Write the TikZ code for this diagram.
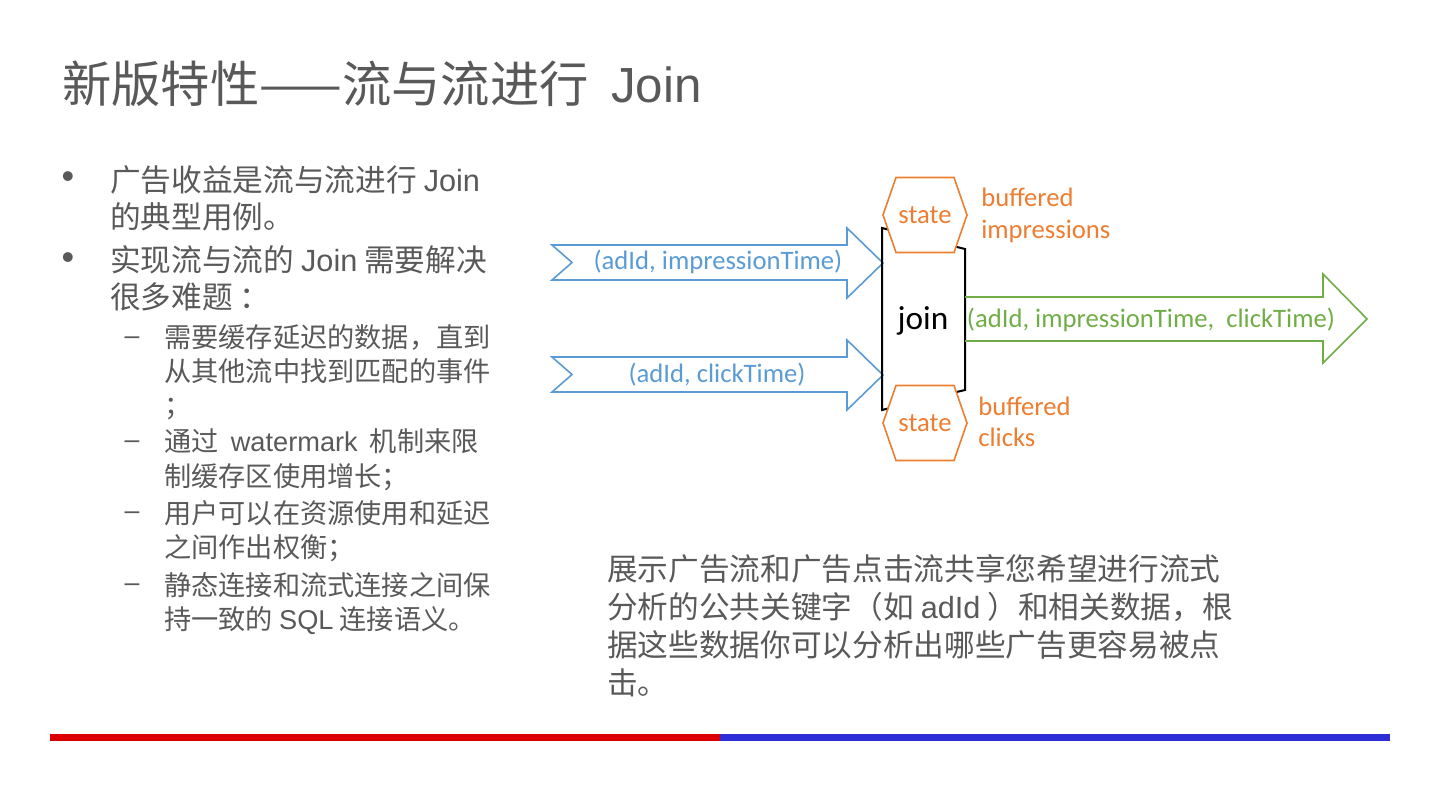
\documentclass[tikz,border=0pt]{standalone}
\usepackage{fontspec}
\setmainfont{Noto Sans CJK SC}
\newfontfamily\latn{Liberation Sans}
\newfontfamily\cali{Carlito}
\usetikzlibrary{positioning,calc}
\definecolor{txtgray}{HTML}{595959}
\definecolor{flowblue}{HTML}{5B9BD5}
\definecolor{stateorange}{HTML}{ED7D31}
\definecolor{outgreen}{HTML}{70AD47}
\definecolor{barred}{HTML}{DD0000}
\definecolor{barblue}{HTML}{2E2ED8}
\tikzset{
  titletxt/.style={anchor=base west, inner sep=0pt, text=txtgray, font=\fontsize{37}{40}\selectfont},
  itemone/.style={anchor=base west, inner sep=0pt, align=left, text=txtgray, font=\fontsize{23}{27.4}\selectfont},
  itemtwo/.style={anchor=base west, inner sep=0pt, align=left, text=txtgray, font=\fontsize{20.4}{25.5}\selectfont},
  notetxt/.style={anchor=base west, inner sep=0pt, align=left, text=txtgray, font=\fontsize{23}{28.5}\selectfont},
  dotmark/.style={inner sep=0pt, text=txtgray, font=\latn\fontsize{27}{27}\selectfont},
  dashmark/.style={inner sep=0pt, text=txtgray, font=\latn\fontsize{20}{20}\selectfont},
  flow/.style={draw=flowblue, line width=1.2pt},
  flowlbl/.style={inner sep=0pt, text=flowblue, font=\cali\fontsize{20}{24}\selectfont},
  outflow/.style={draw=outgreen, line width=1.2pt},
  outlbl/.style={inner sep=0pt, text=outgreen, font=\cali\fontsize{20}{24}\selectfont},
  joinbox/.style={draw=black, line width=1.5pt},
  joinlbl/.style={inner sep=0pt, font=\cali\fontsize{25}{30}\selectfont},
  statehex/.style={draw=stateorange, fill=white, line width=1.2pt},
  statelbl/.style={inner sep=0pt, text=stateorange, font=\cali\fontsize{20}{24}\selectfont},
  buflbl/.style={anchor=base west, inner sep=0pt, align=left, text=stateorange, font=\cali\fontsize{20}{24}\selectfont},
  barline/.style={line width=5.25pt},
}
\begin{document}
\begin{tikzpicture}[x=0.75pt, y=-0.75pt]
\useasboundingbox (0,0) rectangle (1440,809);

% title
\node[titletxt] (title) at (62,103) {新版特性——流与流进行\ \ {\latn Join}};

% left column (multi-line nodes sit on their last baseline)
\node[itemone] (itemA) at (110,228.5) {广告收益是流与流进行 {\latn Join}\\的典型用例。};
\node[itemone] (itemB) at (110,308.5) {实现流与流的 {\latn Join} 需要解决\\很多难题 ：};
\node[itemtwo] (itemC) at (164,416) {需要缓存延迟的数据，直到\\从其他流中找到匹配的事件\\；};
\node[itemtwo] (itemD) at (164,486) {通过\ \ {\latn watermark}\ \ 机制来限\\制缓存区使用增长；};
\node[itemtwo] (itemE) at (164,557) {用户可以在资源使用和延迟\\之间作出权衡；};
\node[itemtwo] (itemF) at (164,629) {静态连接和流式连接之间保\\持一致的 {\latn SQL} 连接语义。};
\node[dotmark] (dotA) at (68,180) {•};
\node[dotmark] (dotB) at (68,261) {•};
\node[dashmark] (dashC) at (132,341) {–};
\node[dashmark] (dashD) at (132,445) {–};
\node[dashmark] (dashE) at (132,516) {–};
\node[dashmark] (dashF) at (132,588) {–};

% input streams
\draw[flow] (552,245) -- (847,245) -- (847,228) -- (883,263) -- (847,298)
  -- (847,280) -- (552,280) -- (572,262.5) -- cycle;
\draw[flow] (552,357) -- (847,357) -- (847,340) -- (883,375) -- (847,410)
  -- (847,392) -- (552,392) -- (572,374.5) -- cycle;
\node[flowlbl] (impr) at (718,262) {(adId, impressionTime)};
\node[flowlbl] (click) at (717,375) {(adId, clickTime)};

% join operator
\draw[joinbox] (882,228) -- (965,249) -- (965,390) -- (882,410) -- cycle;
\node[joinlbl] (join) at (923,321) {join};

% state
\coordinate (hexA) at (925,215);
\coordinate (hexB) at (925,423);
\foreach \h in {hexA,hexB}
  \path[statehex] (\h) ++(-42,0) -- ++(13,-37.5) -- ++(58,0) -- ++(13,37.5)
    -- ++(-13,37.5) -- ++(-58,0) -- cycle;
\node[statelbl] (stateA) at (hexA) {state};
\node[statelbl] (stateB) at (hexB) {state};
\node[buflbl] (bufA) at (981,238.5) {buffered\\impressions};
\node[buflbl] (bufB) at (978,447) {buffered\\clicks};

% output stream
\draw[outflow] (965,297) -- (1323,297) -- (1323,274) -- (1367,319) -- (1323,363)
  -- (1323,341) -- (965,341);
\node[outlbl] (joined) at (1151,320) {(adId, impressionTime,~ clickTime)};

% note
\node[notetxt] (note) at (607,694) {展示广告流和广告点击流共享您希望进行流式\\分析的公共关键字（如 {\latn adId} ）和相关数据，根\\据这些数据你可以分析出哪些广告更容易被点\\击。};

% footer bar
\coordinate (barL) at (50,737.5);
\coordinate (barM) at (720,737.5);
\coordinate (barR) at (1390,737.5);
\draw[barline, barred] (barL) -- (barM);
\draw[barline, barblue] (barM) -- (barR);
\end{tikzpicture}
\end{document}
